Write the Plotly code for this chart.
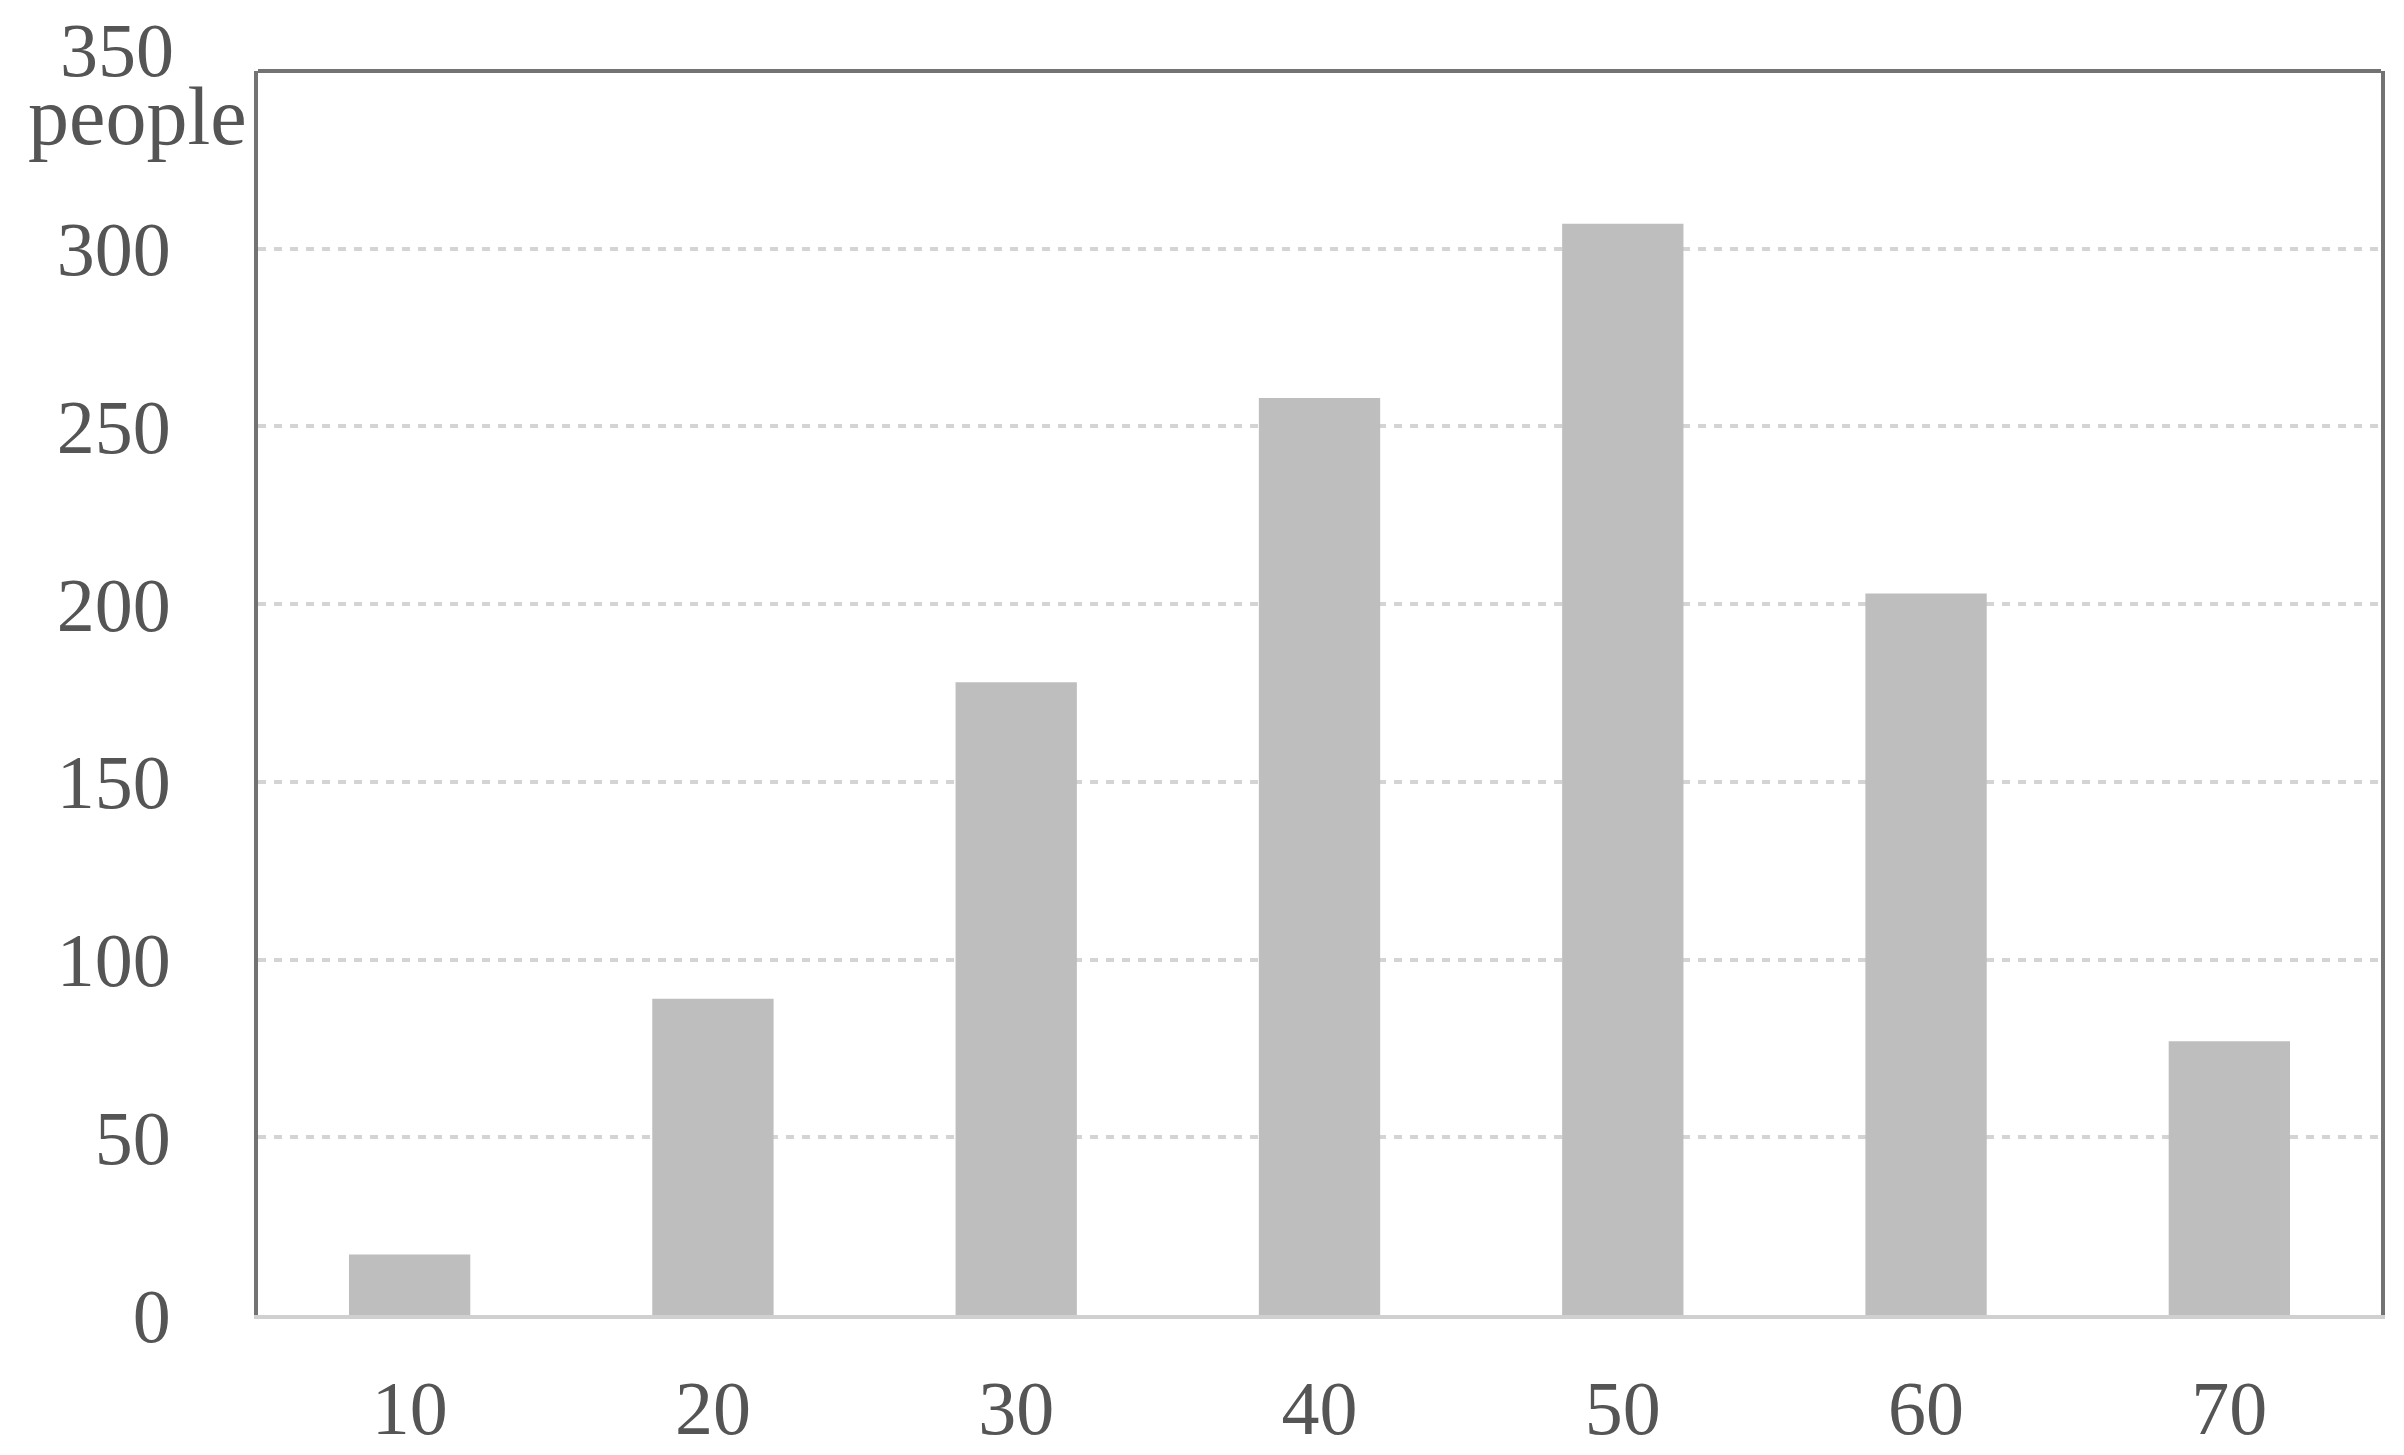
import plotly.graph_objects as go

ages = ['10', '20', '30', '40', '50', '60', '70']
people = [17, 89, 178, 258, 307, 203, 77]
y_ticks = [0, 50, 100, 150, 200, 250, 300]

font_name = 'Liberation Serif'
text_col = '#555555'

fig = go.Figure()
fig.add_trace(go.Bar(x=ages, y=people, width=0.4,
                     marker=dict(color='#bdbebd', line=dict(width=0))))

fig.update_layout(
    width=2404, height=1455,
    margin=dict(l=250, r=31, t=63, b=148),
    plot_bgcolor='white', paper_bgcolor='white',
    showlegend=False,
    font=dict(family=font_name, size=76, color=text_col),
)

fig.update_xaxes(showgrid=False, showline=True, linecolor='#d0d0d0', linewidth=4,
                 ticks='', ticklabelstandoff=24, automargin=False,
                 tickfont=dict(family=font_name, size=76, color=text_col))
fig.update_yaxes(range=[0, 350], tickvals=y_ticks, showgrid=True, gridcolor='#d4d4d4',
                 gridwidth=4, griddash='8px,8px', zeroline=False,
                 showline=True, linecolor='#737373', linewidth=4, mirror=True,
                 ticks='', ticklabelstandoff=68, automargin=False,
                 tickfont=dict(family=font_name, size=76, color=text_col))

# top border of the frame
fig.add_shape(type='line', xref='paper', yref='paper', x0=0, x1=1, y0=1, y1=1,
              line=dict(color='#737373', width=4))

# "350 people" label above the y axis
fig.add_annotation(text='350', xref='paper', yref='paper', x=0, y=1,
                   xanchor='right', yanchor='middle', xshift=-83, yshift=21,
                   borderpad=0, showarrow=False,
                   font=dict(family=font_name, size=76, color=text_col))
fig.add_annotation(text='people', xref='paper', yref='paper', x=0, y=1,
                   xanchor='right', yanchor='middle', xshift=-10, yshift=-45,
                   borderpad=0, showarrow=False,
                   font=dict(family=font_name, size=82, color=text_col))

fig.write_html("out.html")
